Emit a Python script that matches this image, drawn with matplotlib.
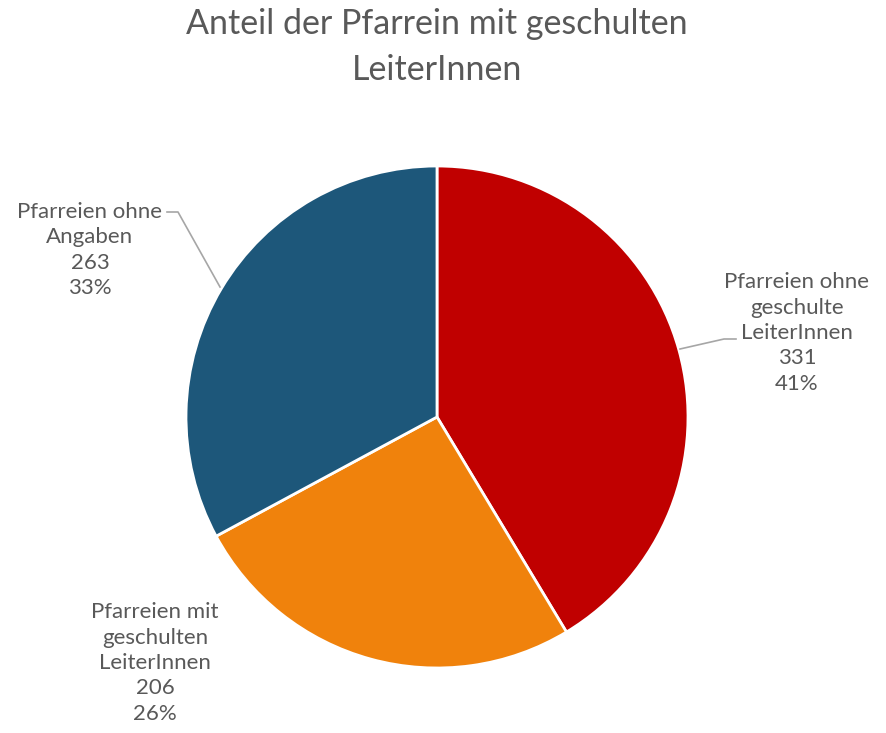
import matplotlib.pyplot as plt

# data
labels = ['Pfarreien ohne\ngeschulte\nLeiterInnen', 'Pfarreien mit\ngeschulten\nLeiterInnen', 'Pfarreien ohne\nAngaben']
values = [331, 206, 263]
colors = ['#C00000', '#F0820C', '#1D577A']

text_col = '#595959'
plt.rcParams['font.family'] = ['Lato', 'DejaVu Sans']

fig = plt.figure(figsize=(8.87, 7.33), dpi=100)
ax = fig.add_axes([0, 0, 1, 1])

H = 733
cx, cy, r = 437, H - 417, 251
ax.pie(values, colors=colors, startangle=90, counterclock=False,
       center=(cx, cy), radius=r, frame=True,
       wedgeprops=dict(edgecolor='white', linewidth=2))
ax.set_xlim(0, 887)
ax.set_ylim(0, 733)
ax.set_aspect('equal')
ax.axis('off')

total = sum(values)
texts = ['%s\n%d\n%d%%' % (l, v, round(100 * v / total)) for l, v in zip(labels, values)]
label_pos = [(797, 333), (155, 663), (90, 250)]
for t, (x, y) in zip(texts, label_pos):
    ax.text(x, H - y, t, ha='center', va='center', fontsize=16, color=text_col,
            linespacing=1.33)

# leader lines
lc = '#A6A6A6'
ax.plot([680, 724, 736], [H - 349, H - 339, H - 339], color=lc, lw=1.2)
ax.plot([167, 178, 220], [H - 212, H - 212, H - 287], color=lc, lw=1.2)

ax.text(437, H - 47, 'Anteil der Pfarrein mit geschulten\nLeiterInnen', ha='center', va='center',
        fontsize=24.5, color=text_col, linespacing=1.55)

fig.savefig('out.png', dpi=100)
